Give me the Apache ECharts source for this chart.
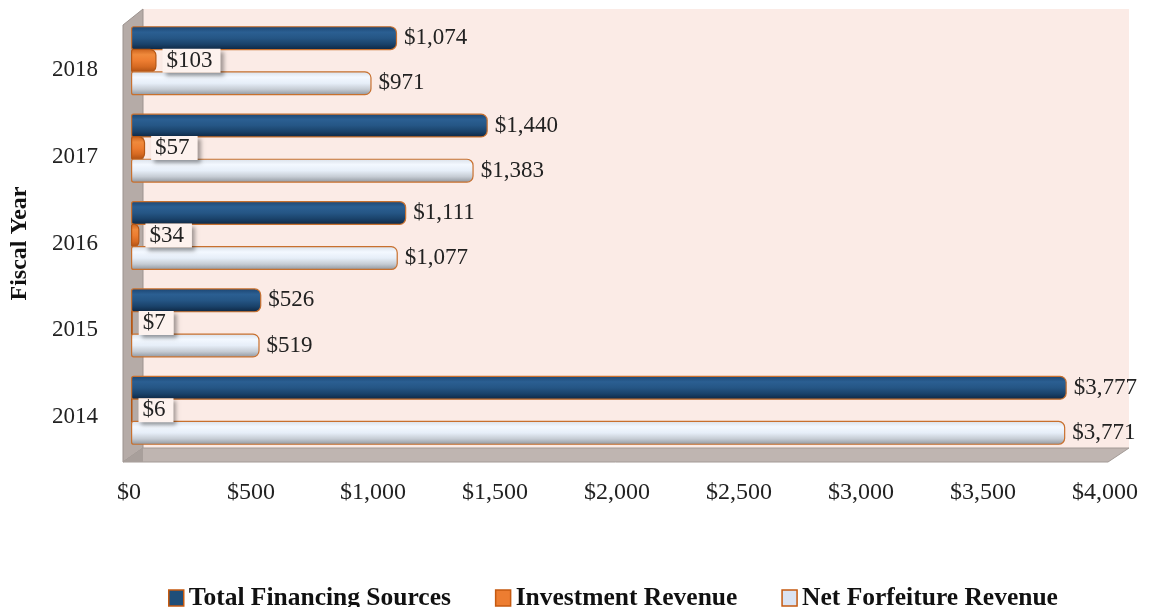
<!DOCTYPE html>
<html>
<head>
<meta charset="utf-8">
<script src="https://cdn.jsdelivr.net/npm/echarts@6/dist/echarts.min.js"></script>
<style>
  html, body { margin: 0; padding: 0; background: #fff; }
  #chart { width: 1149px; height: 607px; }
</style>
</head>
<body>
<div id="chart"></div>
<script>
// chart data
const years = ['2014', '2015', '2016', '2017', '2018']
const totalFinancing = [3777, 526, 1111, 1440, 1074]
const investmentRevenue = [6, 7, 34, 57, 103]
const netForfeiture = [3771, 519, 1077, 1383, 971]
const xTicks = [0, 500, 1000, 1500, 2000, 2500, 3000, 3500, 4000]

const FONT = '"Liberation Serif", "DejaVu Serif", serif'
const money = v => '$' + Number(v).toLocaleString('en-US')

const chart = echarts.init(document.getElementById('chart'), null, { renderer: 'canvas' })

// cylinder-ish vertical gradients
function tube(stops) {
  return new echarts.graphic.LinearGradient(0, 0, 0, 1, stops.map((c, i) => ({ offset: i / (stops.length - 1), color: c })))
}
const blueFill = tube(['#1b4470', '#2b5f92', '#255685', '#1a426a', '#0d2540'])
const orangeFill = tube(['#c8601c', '#f08a3c', '#ed7d31', '#d66a22', '#a84d12'])
const whiteFill = tube(['#d8dfe8', '#f3f8ff', '#e6eef8', '#c6ccd4', '#8d939b'])

const valueLabel = {
  show: true,
  position: 'right',
  distance: 7,
  fontFamily: FONT,
  fontSize: 23,
  color: '#222',
  formatter: p => money(p.value)
}

const option = {
  animation: false,
  backgroundColor: '#ffffff',
  textStyle: { fontFamily: FONT },
  graphic: [
    // back wall
    { type: 'rect', z: -20, shape: { x: 143, y: 9, width: 986, height: 439 }, style: { fill: '#fbebe6' } },
    // left wall
    { type: 'polygon', z: -15, shape: { points: [[123, 25], [143, 9], [143, 448], [123, 462]] },
      style: { fill: '#b5aba7', stroke: '#9c938f', lineWidth: 1 } },
    // floor
    { type: 'polygon', z: -15, shape: { points: [[123, 462], [1108, 462], [1129, 448], [143, 448]] },
      style: { fill: '#bfb5b1', stroke: '#a39a96', lineWidth: 1 } },
    { type: 'polygon', z: -14, shape: { points: [[123, 462], [143, 448], [143, 462]] },
      style: { fill: '#a89f9b' } }
  ],
  legend: {
    top: 580,
    left: 163,
    itemWidth: 15,
    itemHeight: 16,
    itemGap: 44,
    icon: 'rect',
    textStyle: { fontFamily: FONT, fontSize: 25.5, fontWeight: 'bold', color: '#111' },
    data: [
      { name: 'Total Financing Sources', itemStyle: { color: '#1f4e79', borderColor: '#c55a11', borderWidth: 1.5 } },
      { name: 'Investment Revenue', itemStyle: { color: '#ed7d31', borderColor: '#c55a11', borderWidth: 1.5 } },
      { name: 'Net Forfeiture Revenue', itemStyle: { color: '#dae3f3', borderColor: '#c55a11', borderWidth: 1.5 } }
    ]
  },
  grid: [
    { left: 131, top: 17, width: 991, height: 437, containLabel: false },
    { left: 125, top: 27, width: 980, height: 433, containLabel: false }
  ],
  xAxis: [
    { type: 'value', gridIndex: 0, min: 0, max: 4000, interval: 500, show: false },
    {
      type: 'value', gridIndex: 1, min: 0, max: 4000, interval: 500,
      axisLine: { show: false }, axisTick: { show: false }, splitLine: { show: false },
      axisLabel: { margin: 21, fontFamily: FONT, fontSize: 24, color: '#222', formatter: v => xTicks.includes(v) ? money(v) : '' }
    }
  ],
  yAxis: [
    { type: 'category', gridIndex: 0, data: years, show: false },
    {
      type: 'category', gridIndex: 1, data: years,
      axisLine: { show: false }, axisTick: { show: false },
      axisLabel: { margin: 31, fontFamily: FONT, fontSize: 23, color: '#222' },
      name: 'Fiscal Year', nameLocation: 'middle', nameRotate: 90, nameGap: 97,
      nameTextStyle: { fontFamily: FONT, fontSize: 24, fontWeight: 'bold', color: '#111' }
    }
  ],
  series: [
    {
      name: 'Total Financing Sources', type: 'bar', xAxisIndex: 0, yAxisIndex: 0,
      data: totalFinancing, barWidth: 24, barGap: '-6%', barCategoryGap: '17%',
      itemStyle: { color: blueFill, borderColor: '#c8702e', borderWidth: 1.2, borderRadius: [2, 6, 6, 2] },
      label: valueLabel
    },
    {
      name: 'Investment Revenue', type: 'bar', xAxisIndex: 0, yAxisIndex: 0,
      data: investmentRevenue, barWidth: 24, barGap: '-6%',
      itemStyle: { color: orangeFill, borderColor: '#b55614', borderWidth: 1.2, borderRadius: [2, 6, 6, 2] },
      label: {
        show: true, position: 'right', distance: 6,
        fontFamily: FONT, fontSize: 23, color: '#222',
        backgroundColor: '#fdf2ee',
        padding: [1, 8, 0, 4],
        shadowColor: 'rgba(0,0,0,0.35)', shadowBlur: 4, shadowOffsetX: 3, shadowOffsetY: 3,
        formatter: p => money(p.value)
      }
    },
    {
      name: 'Net Forfeiture Revenue', type: 'bar', xAxisIndex: 0, yAxisIndex: 0,
      data: netForfeiture, barWidth: 24, barGap: '-6%',
      itemStyle: { color: whiteFill, borderColor: '#c8702e', borderWidth: 1.2, borderRadius: [2, 6, 6, 2] },
      label: valueLabel
    }
  ]
}

chart.setOption(option)
</script>
</body>
</html>
